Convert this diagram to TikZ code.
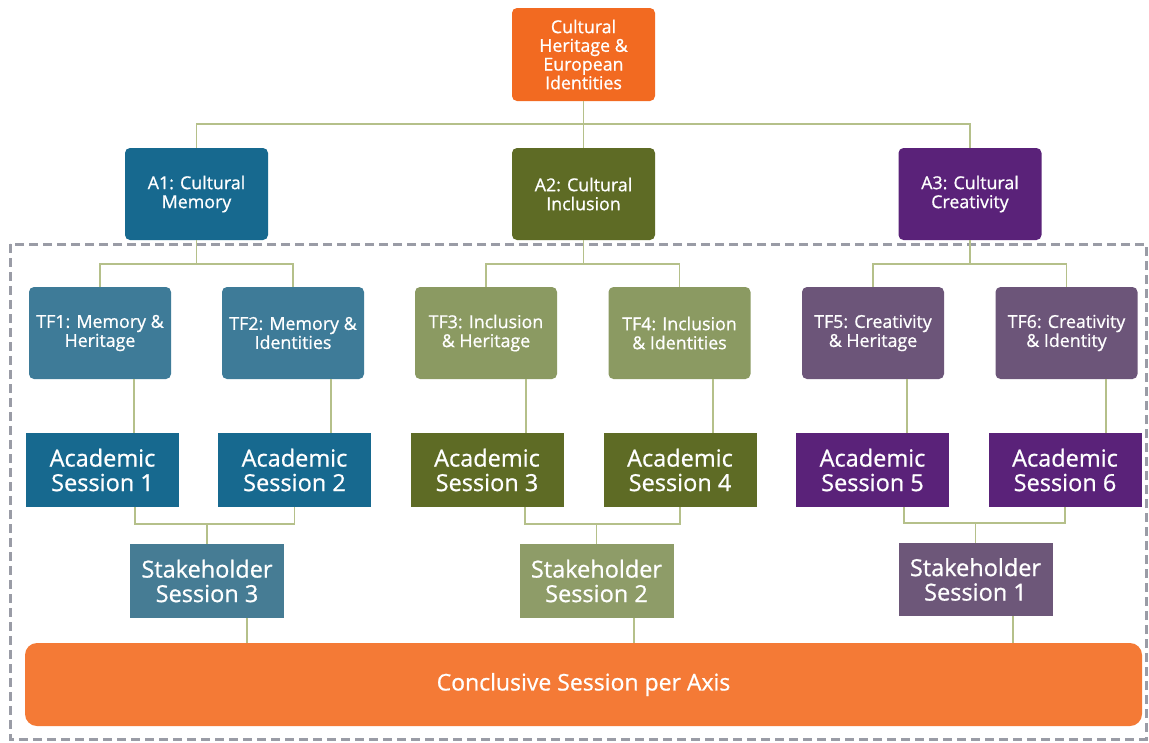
\documentclass[tikz,border=0pt]{standalone}
\usepackage{fontspec}
\setmainfont{Open Sans}[RawFeature={embolden=0.8}]
\usetikzlibrary{calc}
\definecolor{cTop}{HTML}{F26A21}
\definecolor{cConc}{HTML}{F47A36}
\definecolor{cBlue}{HTML}{17698F}
\definecolor{cBlueTF}{HTML}{3E7B98}
\definecolor{cBlueSH}{HTML}{467C94}
\definecolor{cOlive}{HTML}{5E6B25}
\definecolor{cOliveTF}{HTML}{8B9A62}
\definecolor{cOliveSH}{HTML}{8E9C68}
\definecolor{cPurple}{HTML}{5A2279}
\definecolor{cPurpleTF}{HTML}{6C5579}
\definecolor{cPurpleSH}{HTML}{6D5779}
\definecolor{cLine}{HTML}{B5C08A}
\definecolor{cDash}{HTML}{9A9CA6}
\tikzset{
  box/.style={text=white, inner sep=0pt, align=center, anchor=center},
  smallbox/.style={box, rounded corners=5pt, minimum width=143pt, minimum height=92pt,
     font=\fontsize{17.8}{19}\selectfont},
  acbox/.style={box, minimum width=153pt, minimum height=74pt,
     font=\fontsize{23.5}{24.5}\selectfont},
  conn/.style={draw=cLine, line width=1.6pt},
  dashbox/.style={draw=cDash, line width=3pt, dash pattern=on 9pt off 5pt},
}
\begin{document}
\begin{tikzpicture}[x=1pt,y=-1pt]
\useasboundingbox[fill=white] (0,0) rectangle (1149,742);
% frame
\draw[dashbox] (10,244) rectangle (1146,739);
% top
\node[smallbox, fill=cTop, minimum height=93pt, font=\fontsize{17.8}{18.7}\selectfont] (top) at (583.5,54.5) {Cultural\\Heritage \&\\European\\Identities};
% axes
\node[smallbox, fill=cBlue] (A1) at (196.5,194) {A1: Cultural\\Memory};
\node[smallbox, fill=cOlive] (A2) at (583.5,194) {A2: Cultural\\Inclusion};
\node[smallbox, fill=cPurple] (A3) at (970,194) {A3: Cultural\\Creativity};
% task forces
\node[smallbox, fill=cBlueTF, minimum width=142pt] (TF1) at (100,333) {TF1: Memory \&\\Heritage};
\node[smallbox, fill=cBlueTF, minimum width=142pt] (TF2) at (293,333) {TF2: Memory \&\\Identities};
\node[smallbox, fill=cOliveTF, minimum width=142pt] (TF3) at (486,333) {TF3: Inclusion\\\& Heritage};
\node[smallbox, fill=cOliveTF, minimum width=142pt] (TF4) at (679.5,333) {TF4: Inclusion\\\& Identities};
\node[smallbox, fill=cPurpleTF, minimum width=142pt] (TF5) at (873,333) {TF5: Creativity\\\& Heritage};
\node[smallbox, fill=cPurpleTF, minimum width=142pt] (TF6) at (1066.5,333) {TF6: Creativity\\\& Identity};
% academic sessions
\node[acbox, fill=cBlue] (AS1) at (102.5,470) {Academic\\Session 1};
\node[acbox, fill=cBlue] (AS2) at (294.5,470) {Academic\\Session 2};
\node[acbox, fill=cOlive] (AS3) at (487,470) {Academic\\Session 3};
\node[acbox, fill=cOlive] (AS4) at (680,470) {Academic\\Session 4};
\node[acbox, fill=cPurple] (AS5) at (872.5,470) {Academic\\Session 5};
\node[acbox, fill=cPurple] (AS6) at (1065,470) {Academic\\Session 6};
% stakeholder sessions
\node[acbox, fill=cBlueSH, minimum width=154pt] (SH3) at (207,581) {Stakeholder\\Session 3};
\node[acbox, fill=cOliveSH, minimum width=154pt] (SH2) at (596.5,581) {Stakeholder\\Session 2};
\node[acbox, fill=cPurpleSH, minimum width=154pt, minimum height=73pt] (SH1) at (975.5,579.5) {Stakeholder\\Session 1};
% conclusive
\node[box, fill=cConc, rounded corners=12pt, minimum width=1117pt, minimum height=83pt,
      font=\fontsize{23}{26}\selectfont] (conc) at (583.5,684.5) {Conclusive Session per Axis};
% connectors top -> axes
\draw[conn] (top.south) -- ++(0,23) coordinate (j0);
\draw[conn] (A1.north) |- (j0) -| (A3.north);
\draw[conn] (j0) -- (A2.north);
% axes -> task forces
\draw[conn] (A1.south) -- ++(0,24) coordinate (j1);
\draw[conn] (TF1.north) |- (j1) -| (TF2.north);
\draw[conn] (A2.south) -- ++(0,24) coordinate (j2);
\draw[conn] (TF3.north) |- (j2) -| (TF4.north);
\draw[conn] (A3.south) -- ++(0,24) coordinate (j3);
\draw[conn] (TF5.north) |- (j3) -| (TF6.north);
% task forces -> academic sessions
\draw[conn] ([xshift=34pt]TF1.south) coordinate (t1) -- (t1 |- AS1.north);
\draw[conn] ([xshift=38pt]TF2.south) coordinate (t2) -- (t2 |- AS2.north);
\draw[conn] ([xshift=40pt]TF3.south) coordinate (t3) -- (t3 |- AS3.north);
\draw[conn] ([xshift=33.5pt]TF4.south) coordinate (t4) -- (t4 |- AS4.north);
\draw[conn] ([xshift=34pt]TF5.south) coordinate (t5) -- (t5 |- AS5.north);
\draw[conn] ([xshift=39.5pt]TF6.south) coordinate (t6) -- (t6 |- AS6.north);
% academic -> stakeholder
\draw[conn] ([xshift=32.5pt]AS1.south) -- ++(0,17) coordinate (b1) -| (AS2.south);
\draw[conn] (SH3.north) -- (SH3.north |- b1);
\draw[conn] ([xshift=38pt]AS3.south) -- ++(0,17) coordinate (b2) -| (AS4.south);
\draw[conn] (SH2.north) -- (SH2.north |- b2);
\draw[conn] ([xshift=31.5pt]AS5.south) -- ++(0,16) coordinate (b3) -| (AS6.south);
\draw[conn] (SH1.north) -- (SH1.north |- b3);
% stakeholder -> conclusive
\draw[conn] ([xshift=40pt]SH3.south) coordinate (s3) -- (s3 |- conc.north);
\draw[conn] ([xshift=37.5pt]SH2.south) coordinate (s2) -- (s2 |- conc.north);
\draw[conn] ([xshift=37.5pt]SH1.south) coordinate (s1) -- (s1 |- conc.north);
\end{tikzpicture}
\end{document}
